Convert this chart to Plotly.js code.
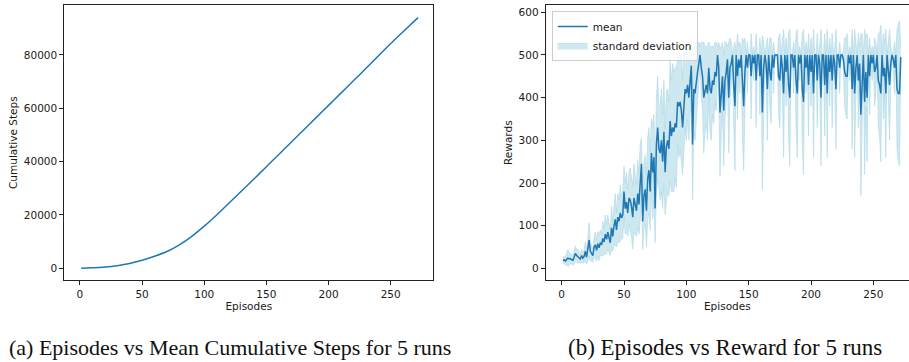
<!DOCTYPE html>
<html>
<head>
<meta charset="utf-8">
<script src="https://cdn.plot.ly/plotly-3.0.1.min.js"></script>
<style>
html,body{margin:0;padding:0;background:#fff;overflow:hidden;}
#chart{width:909px;height:362px;}
</style>
</head>
<body>
<div id="chart"></div>
<script>
// ---- Data ----
const cumEpisodes = [1,10,20,30,40,50,60,70,80,90,100,110,120,130,140,150,160,170,180,190,200,210,220,230,240,250,260,272];
const cumSteps    = [20,200,500,1000,1800,3000,4500,6300,8800,12000,15800,20000,24500,29000,33500,38100,42700,47300,51900,56500,61100,65700,70300,74900,79600,84300,88700,94000];
const stepTicks = [0,20000,40000,60000,80000];
const stepTickText = ["0","20000","40000","60000","80000"];
const episodeTicks = [0,50,100,150,200,250];
const rewardTicks = [0,100,200,300,400,500,600];

const meanReward = [
  18,20,17,22,24,22,23,20,19,26,
  35,30,28,25,22,30,24,28,40,26,
  45,66,40,35,30,50,55,42,58,48,
  60,55,70,62,80,68,85,72,60,95,
  75,100,115,90,120,110,130,118,125,180,
  140,155,130,165,160,145,120,165,150,135,
  175,150,200,245,110,170,185,135,210,230,
  180,270,225,260,140,290,330,280,270,300,
  250,320,225,285,300,280,345,310,330,320,
  340,330,390,380,390,370,330,385,420,410,
  430,400,445,475,290,420,410,440,460,480,
  500,470,450,400,420,430,410,470,420,410,
  440,430,460,450,500,470,365,420,450,370,
  440,460,490,400,470,480,500,430,380,500,
  450,490,470,500,420,380,460,500,470,500,
  500,450,500,480,500,440,500,500,450,500,
  365,470,500,480,420,500,460,440,500,470,
  500,500,500,450,440,500,470,410,500,460,
  500,430,400,500,500,470,500,440,410,500,
  480,500,420,390,500,470,500,430,500,460,
  500,410,500,500,440,500,480,400,500,500,
  430,500,410,500,460,500,440,500,480,420,
  500,500,470,500,500,490,460,450,450,500,
  480,500,420,500,410,470,500,440,480,360,
  430,500,390,460,400,500,450,500,480,500,
  460,470,500,440,430,410,500,450,470,410,
  500,470,430,480,500,490,470,500,420,410,
  410,495
];
const stdReward = [
  6,8,10,12,20,14,12,10,12,14,
  18,14,16,12,10,14,12,14,22,16,
  25,40,22,18,15,24,30,25,28,30,
  30,25,40,30,45,35,40,35,30,50,
  35,45,60,40,55,50,65,50,55,60,
  60,70,55,60,75,70,75,80,70,60,
  80,70,90,60,65,75,80,85,95,100,
  90,80,110,100,80,110,120,100,110,120,
  110,120,100,130,120,110,140,130,150,140,
  130,140,100,120,110,130,110,120,90,110,
  80,100,70,60,130,100,110,90,60,50,
  20,60,80,130,100,90,110,60,100,110,
  80,90,70,80,20,60,150,100,80,130,
  90,70,30,130,70,50,0,90,150,0,
  100,30,60,0,120,150,80,0,60,0,
  0,100,0,40,0,110,0,0,90,0,
  180,60,0,40,120,0,80,100,0,60,
  0,0,0,90,110,0,60,150,0,80,
  0,120,160,0,0,60,0,110,150,0,
  40,0,130,170,0,60,0,120,0,80,
  0,150,0,0,110,0,40,160,0,0,
  120,0,150,0,80,0,110,0,40,140,
  0,0,60,0,0,20,80,90,100,0,
  40,0,140,0,150,60,0,110,40,190,
  120,0,170,80,150,0,90,0,40,0,
  80,60,0,110,120,160,0,100,60,150,
  0,60,130,40,0,20,60,0,140,160,
  170,20
];
const captionA = "(a) Episodes vs Mean Cumulative Steps for 5 runs";
const captionB = "(b) Episodes vs Reward for 5 runs";

// ---- derived (mean ± std, like fill_between) ----
const rewardEpisodes = meanReward.map((_, i) => i + 1);
const lowerBand = meanReward.map((m, i) => m - stdReward[i]);
const upperBand = meanReward.map((m, i) => m + stdReward[i]);

const W = 909, H = 362;
const px = v => v / W;
const py = v => 1 - v / H;

const C0 = '#1f77b4';
const bandLine = 'rgba(173,216,230,0.75)';
const bandFill = 'rgba(173,216,230,0.6)';
const txt = '#1a1a1a';
const tickFont = {family: 'DejaVu Sans, sans-serif', size: 10.5, color: txt};

const traces = [
  {x: cumEpisodes, y: cumSteps, type: 'scatter', mode: 'lines',
   line: {color: C0, width: 1.5, shape: 'spline', smoothing: 0.6},
   xaxis: 'x', yaxis: 'y', showlegend: false},
  {x: rewardEpisodes, y: lowerBand, type: 'scatter', mode: 'lines',
   line: {color: bandLine, width: 0.8},
   xaxis: 'x2', yaxis: 'y2', showlegend: false},
  {x: rewardEpisodes, y: upperBand, type: 'scatter', mode: 'lines',
   fill: 'tonexty', fillcolor: bandFill,
   line: {color: bandLine, width: 0.8},
   xaxis: 'x2', yaxis: 'y2', name: 'standard deviation', legendrank: 2},
  {x: rewardEpisodes, y: meanReward, type: 'scatter', mode: 'lines',
   line: {color: C0, width: 1.5},
   xaxis: 'x2', yaxis: 'y2', name: 'mean', legendrank: 1}
];

const axisCommon = {
  showgrid: false, zeroline: false, showline: true, linecolor: '#222', linewidth: 1,
  ticks: 'outside', ticklen: 4, tickwidth: 1, tickcolor: '#222',
  tickfont: tickFont, automargin: false
};

const layout = {
  width: W, height: H,
  margin: {l: 0, r: 0, t: 0, b: 0},
  paper_bgcolor: '#fff', plot_bgcolor: '#fff',
  showlegend: true,
  font: {family: 'DejaVu Sans, sans-serif', size: 10.5, color: txt},
  xaxis: Object.assign({}, axisCommon, {
    domain: [px(64.3), px(433.3)], range: [-12.6, 284.3],
    tickvals: episodeTicks, mirror: true, anchor: 'y',
    title: {text: 'Episodes', font: tickFont, standoff: 3}
  }),
  yaxis: Object.assign({}, axisCommon, {
    domain: [py(280), py(5.3)], range: [-4375, 98625],
    tickvals: stepTicks, ticktext: stepTickText, mirror: true, anchor: 'x',
    title: {text: 'Cumulative Steps', font: tickFont, standoff: 4}
  }),
  xaxis2: Object.assign({}, axisCommon, {
    domain: [px(545.7), 1], range: [-12.8, 278.6],
    tickvals: episodeTicks, mirror: true, anchor: 'y2',
    title: {text: 'Episodes', font: tickFont, standoff: 3}
  }),
  yaxis2: Object.assign({}, axisCommon, {
    domain: [py(280), py(5.3)], range: [-27.3, 616.4],
    tickvals: rewardTicks, mirror: false, anchor: 'x2',
    title: {text: 'Rewards', font: tickFont, standoff: 3}
  }),
  legend: {
    x: px(551.7), y: py(11), xanchor: 'left', yanchor: 'top',
    bgcolor: 'rgba(255,255,255,0.8)', bordercolor: '#cccccc', borderwidth: 1,
    font: tickFont, tracegroupgap: 0, itemwidth: 30, traceorder: 'normal'
  },
  annotations: [
    {text: captionA, x: px(230), y: py(347), xref: 'paper', yref: 'paper',
     xanchor: 'center', yanchor: 'middle', showarrow: false,
     font: {family: 'Liberation Serif, Times New Roman, serif', size: 22, color: '#111'}},
    {text: captionB, x: px(725), y: py(347), xref: 'paper', yref: 'paper',
     xanchor: 'center', yanchor: 'middle', showarrow: false,
     font: {family: 'Liberation Serif, Times New Roman, serif', size: 23, color: '#111'}}
  ]
};

Plotly.newPlot('chart', traces, layout, {staticPlot: true, displayModeBar: false});
</script>
</body>
</html>
